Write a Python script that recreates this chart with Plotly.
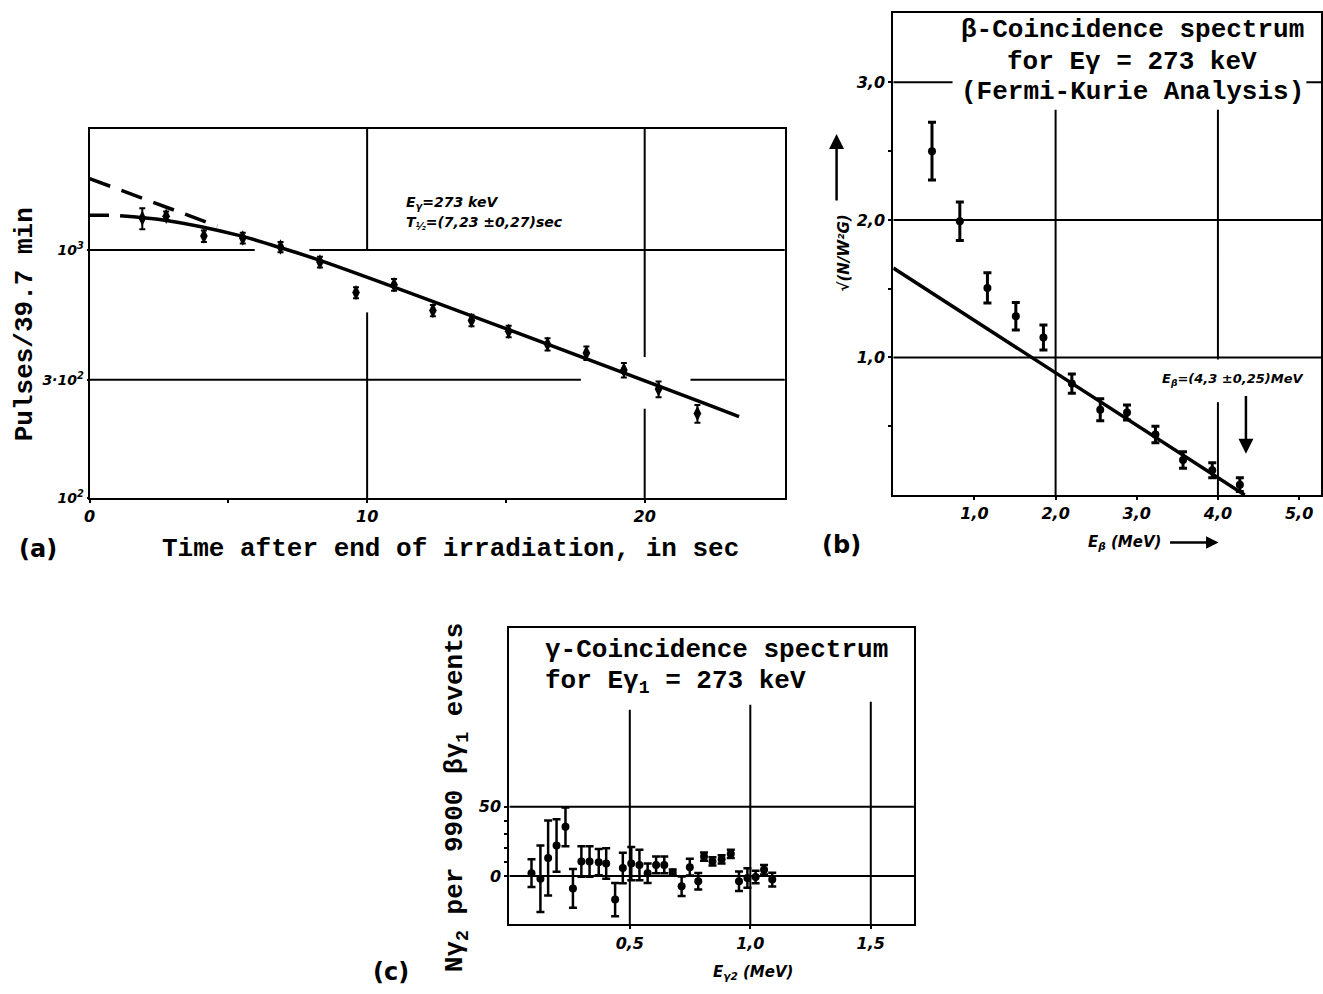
import plotly.graph_objects as go

# ---------------- panel (a): decay curve ----------------
a_time = [1.9, 2.76, 4.12, 5.52, 6.88, 8.3, 9.6, 10.97, 12.37, 13.76, 15.1, 16.5, 17.9, 19.25, 20.5, 21.9]
a_counts = [1343, 1368, 1138, 1117, 1028, 895, 673, 724, 570, 520, 470, 417, 384, 328, 275, 219]
a_err = [130, 60, 60, 55, 50, 45, 35, 40, 30, 28, 25, 24, 24, 22, 20, 18]
a_fit_t = [1.1, 2.72, 5.34, 6.56, 8.35, 23.4]
a_fit_n = [1375, 1318, 1148, 1047, 904, 213]
a_extrap_t = [0.0, 4.6]
a_extrap_n = [1941, 1247]
a_flat_t = [0.0, 0.7]
a_flat_n = [1380, 1380]
a_xticks = [0, 10, 20]
a_xticklabels = ["0", "10", "20"]
a_xminor = [5, 15]
a_yticks = [100, 300, 1000]
a_yticklabels = ["10<sup>2</sup>", "3·10<sup>2</sup>", "10<sup>3</sup>"]

# ---------------- panel (b): Fermi-Kurie plot ----------------
b_energy = [0.477, 0.82, 1.16, 1.51, 1.85, 2.20, 2.55, 2.88, 3.23, 3.57, 3.93, 4.27]
b_kurie = [2.50, 1.99, 1.505, 1.30, 1.145, 0.81, 0.62, 0.60, 0.44, 0.255, 0.18, 0.075]
b_err = [0.21, 0.14, 0.11, 0.10, 0.09, 0.07, 0.08, 0.055, 0.06, 0.06, 0.055, 0.05]
b_fit_e = [0.0, 4.33]
b_fit_k = [1.65, 0.0]
b_xticks = [1.0, 2.0, 3.0, 4.0, 5.0]
b_xticklabels = ["1,0", "2,0", "3,0", "4,0", "5,0"]
b_yticks = [1.0, 2.0, 3.0]
b_yticklabels = ["1,0", "2,0", "3,0"]
b_yminor = [0.5, 1.5, 2.5]

# ---------------- panel (c): gamma coincidence ----------------
c_energy = [0.092, 0.129, 0.161, 0.196, 0.233, 0.264, 0.299, 0.333, 0.371, 0.402,
            0.439, 0.471, 0.506, 0.540, 0.574, 0.609, 0.643, 0.678, 0.715, 0.749,
            0.784, 0.808, 0.843, 0.881, 0.919, 0.953, 0.988, 1.022, 1.057, 1.091]
c_counts = [2, -2, 13, 22, 35.5, -9, 10.5, 10.5, 10, 9,
            -17, 5.7, 9, 8, 2, 8, 8, 2.6, -7.4, 6.4,
            -3.8, 14, 10.5, 12, 16, -3.8, -1.4, -0.7, 4.5, -2.6]
c_err = [10, 24, 27, 19, 14, 14, 11, 11, 9.5, 11,
         12, 11, 12, 11, 7, 6, 6, 2, 7, 6,
         6, 3, 3, 3, 3, 7, 7, 4.5, 3.5, 5]
c_xticks = [0.5, 1.0, 1.5]
c_xticklabels = ["0,5", "1,0", "1,5"]
c_yticks = [0, 50]
c_yticklabels = ["0", "50"]
c_yminor = [10, 20, 30, 40]

# axis ranges
A_X = [0, 25.05]
A_Y = [2, 3.488]
B_X = [0, 5.27]
B_Y = [0, 3.505]
C_X = [0, 1.68]
C_Y = [-35, 179]

# grid segments (x0, x1, y0, y1) in data units, with the gaps of the original
a_grid = [(0, 5.95, 1000, 1000), (7.92, 25.05, 1000, 1000),
          (0, 17.7, 300, 300), (21.65, 25.05, 300, 300),
          (10, 10, 1000, 3076), (10, 10, 100, 560),
          (20, 20, 370, 3076), (20, 20, 100, 229)]
b_grid = [(0, 5.27, 1.0, 1.0), (0, 5.27, 2.0, 2.0),
          (0, 0.73, 3.0, 3.0), (5.09, 5.27, 3.0, 3.0),
          (2.0, 2.0, 0, 2.80), (4.0, 4.0, 0.985, 2.80), (4.0, 4.0, 0, 0.675)]
c_grid = [(0, 1.68, 0, 0), (0, 1.68, 50, 50),
          (0.5, 0.5, -35, 120), (1.0, 1.0, -35, 123.6), (1.5, 1.5, -35, 125.7)]

W, H = 1323, 994
TYPE = "Liberation Mono"
LAB = "DejaVu Sans"
INK = "black"

fig = go.Figure()


def add_grid(segs, xa, ya):
    xs, ys = [], []
    for x0, x1, y0, y1 in segs:
        xs += [x0, x1, None]
        ys += [y0, y1, None]
    fig.add_trace(go.Scatter(x=xs, y=ys, mode="lines", line=dict(color=INK, width=2),
                             xaxis=xa, yaxis=ya, showlegend=False, hoverinfo="skip"))


add_grid(a_grid, "x", "y")
add_grid(b_grid, "x2", "y2")
add_grid(c_grid, "x3", "y3")

# panel (a)
fig.add_trace(go.Scatter(x=a_extrap_t, y=a_extrap_n, mode="lines",
                         line=dict(color=INK, width=3.5, dash="22px,12px"),
                         xaxis="x", yaxis="y", showlegend=False, hoverinfo="skip"))
fig.add_trace(go.Scatter(x=a_flat_t, y=a_flat_n, mode="lines",
                         line=dict(color=INK, width=3.5),
                         xaxis="x", yaxis="y", showlegend=False, hoverinfo="skip"))
fig.add_trace(go.Scatter(x=a_fit_t, y=a_fit_n, mode="lines", line=dict(color=INK, width=3.5, shape="spline"),
                         xaxis="x", yaxis="y", showlegend=False, hoverinfo="skip"))
fig.add_trace(go.Scatter(x=a_time, y=a_counts, mode="markers",
                         marker=dict(symbol="diamond-tall", size=11, color=INK),
                         error_y=dict(type="data", array=a_err, color=INK, thickness=2, width=3),
                         xaxis="x", yaxis="y", showlegend=False, hoverinfo="skip"))

# panel (b)
fig.add_trace(go.Scatter(x=b_fit_e, y=b_fit_k, mode="lines", line=dict(color=INK, width=3.5),
                         xaxis="x2", yaxis="y2", showlegend=False, hoverinfo="skip"))
fig.add_trace(go.Scatter(x=b_energy, y=b_kurie, mode="markers",
                         marker=dict(symbol="circle", size=8, color=INK),
                         error_y=dict(type="data", array=b_err, color=INK, thickness=3, width=4),
                         xaxis="x2", yaxis="y2", showlegend=False, hoverinfo="skip"))

# panel (c)
fig.add_trace(go.Scatter(x=c_energy, y=c_counts, mode="markers",
                         marker=dict(symbol="circle", size=8, color=INK),
                         error_y=dict(type="data", array=c_err, color=INK, thickness=2.5, width=4),
                         xaxis="x3", yaxis="y3", showlegend=False, hoverinfo="skip"))

tickfont = dict(family=LAB, size=16, color=INK, weight="bold", style="italic")
axbase = dict(showline=True, linewidth=2, linecolor=INK, mirror=True, showgrid=False,
              zeroline=False, tickfont=tickfont, ticks="outside", ticklen=3, tickwidth=2,
              tickcolor=INK, tickmode="array", fixedrange=True)


def minor(vals):
    return dict(tickmode="array", tickvals=vals, ticks="outside", ticklen=3,
                tickwidth=2, tickcolor=INK, showgrid=False)


fig.update_layout(
    width=W, height=H, autosize=False,
    margin=dict(l=0, r=0, t=0, b=0),
    paper_bgcolor="white", plot_bgcolor="white",
    showlegend=False,
    xaxis=dict(axbase, domain=[84 / W, 783 / W], range=A_X, anchor="y",
               tickvals=a_xticks, ticktext=a_xticklabels, minor=minor(a_xminor)),
    yaxis=dict(axbase, domain=[1 - 502 / H, 1 - 130 / H], type="log", range=A_Y, anchor="x",
               tickvals=a_yticks, ticktext=a_yticklabels, ticklen=1,
               tickfont=dict(tickfont, size=14)),
    xaxis2=dict(axbase, domain=[892 / W, 1322 / W], range=B_X, anchor="y2",
                tickvals=b_xticks, ticktext=b_xticklabels),
    yaxis2=dict(axbase, domain=[1 - 499 / H, 1 - 13 / H], range=B_Y, anchor="x2",
                tickvals=b_yticks, ticktext=b_yticklabels, minor=minor(b_yminor)),
    xaxis3=dict(axbase, domain=[506 / W, 913 / W], range=C_X, anchor="y3",
                tickvals=c_xticks, ticktext=c_xticklabels),
    yaxis3=dict(axbase, domain=[1 - 932 / H, 1 - 633 / H], range=C_Y, anchor="x3",
                tickvals=c_yticks, ticktext=c_yticklabels, minor=minor(c_yminor)),
)

big = dict(family=TYPE, size=26, color=INK, weight="bold")
ital = dict(family=LAB, size=15, color=INK, weight="bold", style="italic")
panel_lbl = dict(family=LAB, size=24, color=INK, weight="bold")


def ann(text, px, py, font, xanchor="center", angle=0):
    fig.add_annotation(text=text, x=px / W, y=1 - py / H, xref="paper", yref="paper",
                       showarrow=False, font=font, xanchor=xanchor, yanchor="middle",
                       textangle=angle)


# panel (a) texts
ann("Pulses/39.7 min", 19, 327, big, angle=-90)
ann("Time after end of irradiation, in sec", 447, 553, big)
ann("(a)", 32, 553, panel_lbl)
ann("E<sub>γ</sub>=273 keV", 400, 205, dict(ital, size=14), xanchor="left")
ann("T<sub>½</sub>=(7,23 ±0,27)sec", 400, 225, dict(ital, size=14), xanchor="left")

# panel (b) texts
ann("β-Coincidence spectrum", 1132, 30, big)
ann("for Eγ = 273 keV", 1132, 62, big)
ann("(Fermi-Kurie Analysis)", 1132, 93, big)
ann("E<sub>β</sub>=(4,3 ±0,25)MeV", 1160, 383, dict(ital, size=13), xanchor="left")
ann("√(N/W²G)", 842, 255, dict(ital, size=15), angle=-90)
ann("E<sub>β</sub> (MeV)", 1124, 547, ital)
ann("(b)", 840, 549, panel_lbl)
fig.add_annotation(x=4.345, y=0.30, ax=4.345, ay=0.73, xref="x2", yref="y2",
                   axref="x2", ayref="y2", showarrow=True, arrowhead=2, arrowsize=1.2,
                   arrowwidth=2.5, arrowcolor=INK, text="")
fig.add_annotation(x=835 / W, y=1 - 135 / H, xref="paper", yref="paper", ax=0, ay=68,
                   showarrow=True, arrowhead=2, arrowsize=1.2, arrowwidth=2.5,
                   arrowcolor=INK, text="")
fig.add_annotation(x=1219 / W, y=1 - 547 / H, xref="paper", yref="paper", ax=-50, ay=0,
                   showarrow=True, arrowhead=2, arrowsize=1.0, arrowwidth=2.5,
                   arrowcolor=INK, text="")

# panel (c) texts
ann("γ-Coincidence spectrum", 540, 655, big, xanchor="left")
ann("for Eγ<sub>1</sub> = 273 keV", 540, 688, big, xanchor="left")
ann("Nγ<sub>2</sub> per 9900 βγ<sub>1</sub> events", 452, 804, big, angle=-90)
ann("E<sub>γ2</sub> (MeV)", 751, 980, ital)
ann("(c)", 387, 980, panel_lbl)

fig.write_html("out.html")
